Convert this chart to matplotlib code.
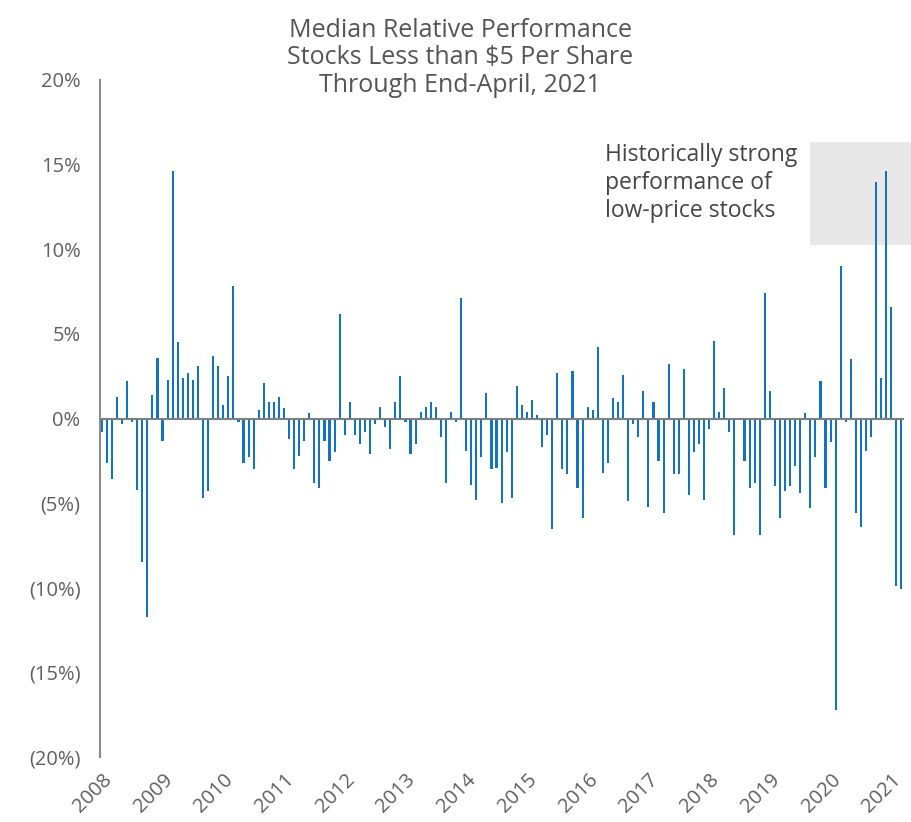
import numpy as np
import matplotlib
matplotlib.use("Agg")
import matplotlib.pyplot as plt
from matplotlib.patches import Rectangle

# monthly median relative performance (%)
perf_2008 = [-0.8, -2.6, -3.6, 1.3, -0.3, 2.2, -0.2, -4.2, -8.5, -11.7, 1.4, 3.6]
perf_2009 = [-1.3, 2.3, 14.6, 4.5, 2.4, 2.7, 2.3, 3.1, -4.7, -4.3, 3.7, 3.1]
perf_2010 = [0.8, 2.5, 7.8, -0.2, -2.6, -2.3, -3.0, 0.5, 2.1, 1.0, 1.0, 1.3]
perf_2011 = [0.6, -1.2, -3.0, -2.2, -1.3, 0.3, -3.8, -4.1, -1.3, -2.5, -2.0, 6.2]
perf_2012 = [-1.0, 1.0, -1.0, -1.5, -0.8, -2.1, -0.3, 0.7, -0.5, -1.8, 1.0, 2.5]
perf_2013 = [-0.2, -2.1, -1.5, 0.4, 0.7, 1.0, 0.7, -1.1, -3.8, 0.4, -0.2, 7.1]
perf_2014 = [-1.9, -3.9, -4.8, -2.3, 1.5, -3.0, -2.9, -5.0, -2.0, -4.7, 1.9, 0.8]
perf_2015 = [0.4, 1.1, 0.2, -1.7, -1.0, -6.5, 2.7, -3.0, -3.3, 2.8, -4.1, -5.9]
perf_2016 = [0.7, 0.5, 4.2, -3.2, -2.6, 1.2, 1.0, 2.6, -4.9, -0.3, -1.1, 1.6]
perf_2017 = [-5.2, 1.0, -2.5, -5.6, 3.2, -3.3, -3.3, 2.9, -4.5, -2.0, -1.5, -4.8]
perf_2018 = [-0.6, 4.6, 0.4, 1.8, -0.8, -6.9, -0.1, -2.5, -4.1, -3.8, -6.9, 7.4]
perf_2019 = [1.6, -4.0, -5.9, -4.3, -4.0, -2.8, -4.4, 0.3, -5.3, -2.3, 2.2, -4.1]
perf_2020 = [-1.4, -17.2, 9.0, -0.2, 3.5, -5.6, -6.4, -1.9, -1.1, 14.0, 2.4, 14.6]
perf_2021 = [6.6, -9.9, -10.1]

values = (perf_2008 + perf_2009 + perf_2010 + perf_2011 + perf_2012 + perf_2013
          + perf_2014 + perf_2015 + perf_2016 + perf_2017 + perf_2018 + perf_2019
          + perf_2020 + perf_2021)
years = list(range(2008, 2022))
y_ticks = [-20, -15, -10, -5, 0, 5, 10, 15, 20]

def pct_label(v):
    if v < 0:
        return "(%d%%)" % abs(v)
    return "%d%%" % v

plt.rcParams['font.family'] = ['Open Sans', 'DejaVu Sans']

fig = plt.figure(figsize=(9.11, 8.22), dpi=100)
ax = fig.add_axes([0.1098, 0.079, 0.8822, 0.8237])

x = np.arange(len(values))
ax.bar(x, values, width=0.42, color='#1272c4', zorder=3)
ax.axhline(0, color='#7f7f7f', lw=1.5, zorder=4)

ax.set_xlim(-0.35, len(values) - 0.55)
ax.set_ylim(-20, 20)

ax.set_yticks(y_ticks)
ax.set_yticklabels([pct_label(v) for v in y_ticks])
ax.set_xticks([12 * i for i in range(len(years))])
ax.set_xticklabels([str(y) for y in years], rotation=45, ha='right',
                   rotation_mode='anchor')
ax.tick_params(axis='y', length=0, pad=14, labelsize=14.5, labelcolor='#606060')
ax.tick_params(axis='x', length=0, pad=9, labelsize=14.5, labelcolor='#606060')

for s in ['top', 'right', 'bottom']:
    ax.spines[s].set_visible(False)
ax.spines['left'].set_color('#8c8c8c')
ax.spines['left'].set_linewidth(1.5)

# shaded call-out box
ax.add_patch(Rectangle((139.9, 10.25), 22, 6.1, facecolor='#e8e8e8',
                       edgecolor='none', zorder=1, clip_on=False))
ax.text(99.4, 16.3, "Historically strong\nperformance of\nlow-price stocks",
        fontsize=16.5, color='#454545', va='top', ha='left', linespacing=1.22,
        zorder=5)

fig.text(0.505, 0.978, "Median Relative Performance\nStocks Less than $5 Per Share\nThrough End-April, 2021",
         ha='center', va='top', fontsize=18, color='#555555', linespacing=1.12)

fig.savefig("out.png", dpi=100)
